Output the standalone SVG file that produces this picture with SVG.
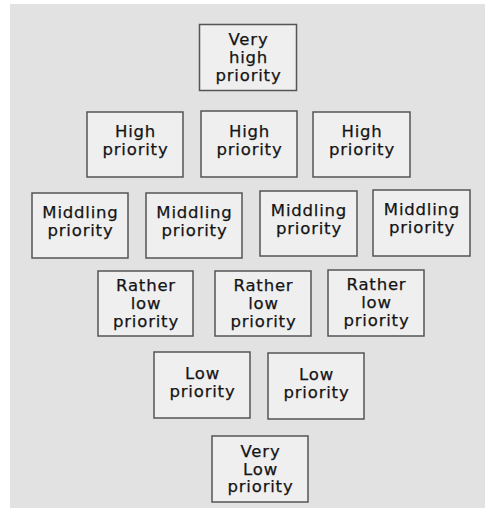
<svg xmlns="http://www.w3.org/2000/svg" width="485" height="509" viewBox="0 0 485 509">
<style>
.bg{fill:#e2e2e2}
.box{fill:#efefef;stroke:#555;stroke-width:1.5}
text{font-family:"DejaVu Sans","Liberation Sans",sans-serif;font-size:16.5px;letter-spacing:0.8px;fill:#141414;stroke:#141414;stroke-width:0.25;text-anchor:middle}
</style>
<rect x="0" y="0" width="485" height="509" fill="#ffffff"/>
<rect class="bg" x="10" y="4" width="475" height="504"/>
<g id="connectors"/>
<g id="very-high">
<rect class="box" x="199.5" y="24.5" width="97" height="66"/>
<text x="248.5" y="45">Very</text><text x="248.5" y="63">high</text><text x="248.5" y="81">priority</text>
</g>
<g id="high-1">
<rect class="box" x="87" y="112" width="96" height="65"/>
<text x="135.5" y="137">High</text><text x="135.5" y="155">priority</text>
</g>
<g id="high-2">
<rect class="box" x="201" y="111" width="96" height="66"/>
<text x="249.5" y="136.5">High</text><text x="249.5" y="154.5">priority</text>
</g>
<g id="high-3">
<rect class="box" x="313" y="112" width="97" height="65"/>
<text x="362" y="137">High</text><text x="362" y="155">priority</text>
</g>
<g id="middling-1">
<rect class="box" x="32" y="193" width="96" height="65"/>
<text x="80.5" y="217.5">Middling</text><text x="80.5" y="235.5">priority</text>
</g>
<g id="middling-2">
<rect class="box" x="146" y="193" width="96" height="65"/>
<text x="194.5" y="217.5">Middling</text><text x="194.5" y="235.5">priority</text>
</g>
<g id="middling-3">
<rect class="box" x="260" y="191" width="97" height="65"/>
<text x="309" y="215.5">Middling</text><text x="309" y="233.5">priority</text>
</g>
<g id="middling-4">
<rect class="box" x="373" y="190" width="97" height="66"/>
<text x="422" y="214.5">Middling</text><text x="422" y="232.5">priority</text>
</g>
<g id="rather-low-1">
<rect class="box" x="98" y="271" width="95" height="65"/>
<text x="146" y="290.5">Rather</text><text x="146" y="308.5">low</text><text x="146" y="326.5">priority</text>
</g>
<g id="rather-low-2">
<rect class="box" x="215" y="271" width="96" height="65"/>
<text x="263.5" y="290.5">Rather</text><text x="263.5" y="308.5">low</text><text x="263.5" y="326.5">priority</text>
</g>
<g id="rather-low-3">
<rect class="box" x="328" y="270" width="96" height="66"/>
<text x="376.5" y="290">Rather</text><text x="376.5" y="308">low</text><text x="376.5" y="326">priority</text>
</g>
<g id="low-1">
<rect class="box" x="154" y="352" width="96" height="66"/>
<text x="202.5" y="379">Low</text><text x="202.5" y="397">priority</text>
</g>
<g id="low-2">
<rect class="box" x="268" y="353" width="96" height="66"/>
<text x="316.5" y="380">Low</text><text x="316.5" y="398">priority</text>
</g>
<g id="very-low">
<rect class="box" x="212" y="436" width="96" height="66"/>
<text x="260.5" y="456.5">Very</text><text x="260.5" y="474.5">Low</text><text x="260.5" y="492">priority</text>
</g>
</svg>
